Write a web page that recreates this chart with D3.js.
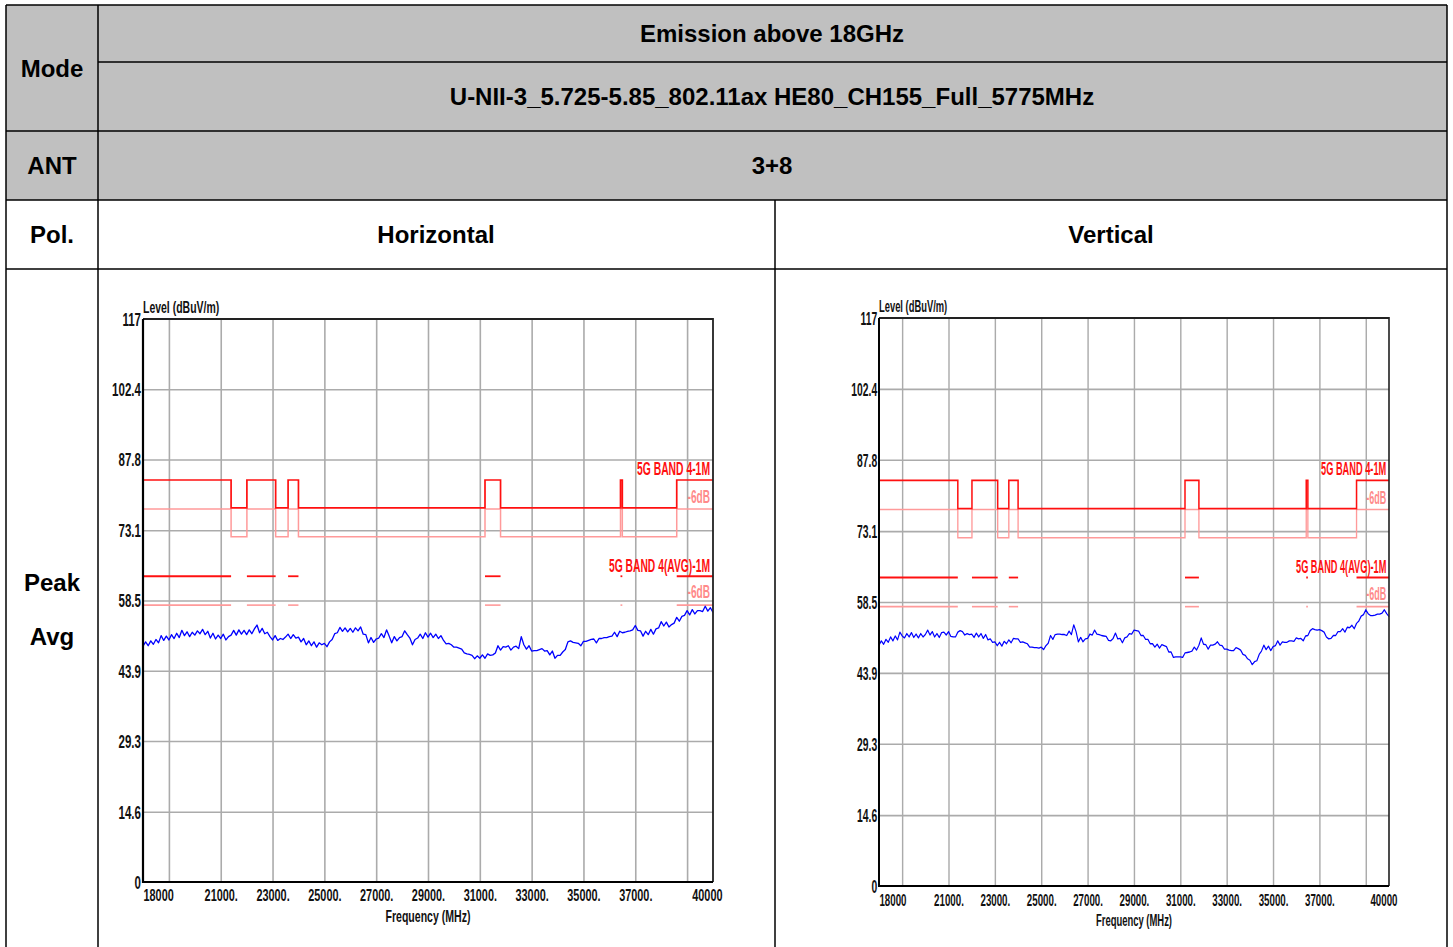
<!DOCTYPE html>
<html><head><meta charset="utf-8">
<script src="https://cdn.jsdelivr.net/npm/d3@7"></script>
<style>
html,body{margin:0;padding:0;background:#fff;}
svg{display:block;}
</style></head>
<body>
<svg id="c" width="1453" height="947"></svg>
<script>
// ---------- data ----------
const yTickValues = [0, 14.6, 29.3, 43.9, 58.5, 73.1, 87.8, 102.4, 117];
const xGridValues = [19000, 21000, 23000, 25000, 27000, 29000, 31000, 33000, 35000, 37000, 39000];
const xLabelValues = [18000, 21000, 23000, 25000, 27000, 29000, 31000, 33000, 35000, 37000, 40000];
const xLabelText = ["18000", "21000.", "23000.", "25000.", "27000.", "29000.", "31000.", "33000.", "35000.", "37000.", "40000"];
const freqStart = 18000, freqStep = 100;

const horizontalLevel = [
  49.0, 49.9, 49.1, 50.1, 49.4, 50.4, 49.7, 51.2, 50.2, 51.1,
  50.3, 51.4, 50.6, 51.7, 50.8, 52.3, 51.2, 52.0, 51.0, 51.9,
  51.3, 52.2, 51.6, 52.5, 51.4, 52.1, 50.7, 51.7, 50.5, 51.3,
  50.6, 51.5, 50.3, 51.0, 51.3, 52.3, 51.3, 52.4, 51.5, 52.3,
  51.4, 52.4, 51.6, 52.6, 53.4, 51.8, 52.7, 51.6, 51.9, 51.0,
  50.3, 51.2, 50.2, 50.6, 50.4, 50.9, 51.5, 50.6, 51.4, 50.7,
  50.9, 49.9, 50.6, 49.3, 50.1, 49.1, 49.9, 48.8, 49.7, 49.3,
  49.6, 48.9, 49.9, 50.4, 51.6, 51.8, 52.9, 52.1, 52.8, 52.0,
  52.7, 51.9, 52.8, 52.2, 53.0, 51.5, 51.4, 49.7, 50.8, 49.8,
  50.5, 50.7, 51.6, 50.8, 52.4, 51.1, 49.7, 51.0, 50.1, 50.8,
  51.0, 52.2, 51.4, 50.7, 49.3, 50.4, 50.7, 51.5, 50.6, 51.8,
  50.9, 51.7, 50.8, 51.5, 50.6, 51.2, 50.2, 49.5, 49.6, 49.3,
  48.8, 48.8, 48.6, 48.4, 47.6, 47.4, 47.3, 47.1, 46.4, 47.0,
  46.5, 47.2, 46.5, 47.4, 47.1, 47.2, 47.6, 49.1, 48.2, 48.9,
  48.8, 49.1, 48.2, 48.8, 49.0, 48.5, 51.0, 49.3, 48.4, 49.1,
  48.0, 48.1, 48.1, 48.3, 48.5, 48.0, 48.1, 47.2, 48.0, 46.5,
  47.1, 47.1, 47.8, 48.3, 49.9, 50.1, 49.8, 49.7, 49.6, 49.1,
  50.0, 50.0, 50.2, 50.4, 50.5, 49.7, 50.6, 50.6, 50.8, 50.8,
  51.0, 51.1, 51.9, 51.0, 52.1, 51.8, 51.9, 52.1, 52.2, 52.4,
  53.3, 52.3, 52.2, 51.1, 52.1, 51.4, 52.5, 51.5, 52.6, 52.8,
  54.1, 53.2, 54.0, 53.0, 53.5, 53.8, 55.0, 54.2, 55.2, 55.4,
  56.4, 55.5, 56.6, 55.7, 56.4, 56.4, 56.2, 57.3, 56.3, 57.0,
  56.0
];

const verticalLevel = [
  49.6, 50.5, 49.8, 50.8, 50.2, 51.3, 50.5, 51.5, 50.7, 52.3,
  51.5, 51.1, 52.0, 51.3, 52.2, 51.2, 51.9, 51.1, 52.0, 51.3,
  51.8, 52.7, 51.7, 52.4, 51.3, 52.0, 51.2, 52.2, 52.3, 51.7,
  52.4, 51.4, 51.3, 51.3, 52.3, 52.6, 52.4, 51.7, 52.0, 51.8,
  51.9, 51.2, 52.1, 51.3, 52.0, 51.0, 51.8, 50.7, 50.9, 50.2,
  50.3, 49.5, 50.2, 49.4, 50.4, 49.9, 50.7, 50.1, 51.0, 50.9,
  50.9, 50.2, 50.3, 50.1, 49.9, 49.2, 49.2, 49.1, 49.1, 49.0,
  49.2, 48.7, 49.5, 50.0, 51.6, 50.8, 51.8, 51.9, 51.9, 51.8,
  51.8, 51.6, 52.5, 51.8, 53.8, 52.4, 50.3, 51.2, 50.3, 50.9,
  51.0, 51.9, 51.7, 52.7, 51.9, 51.8, 51.6, 51.5, 51.4, 50.6,
  50.5, 51.0, 52.1, 50.9, 51.0, 50.1, 51.1, 51.3, 52.0, 51.9,
  52.7, 52.6, 52.5, 51.6, 51.6, 50.8, 50.8, 49.9, 49.9, 49.2,
  49.8, 49.0, 49.7, 49.5, 49.3, 48.2, 48.2, 47.1, 47.2, 47.2,
  47.2, 47.1, 48.0, 48.1, 48.2, 48.4, 49.2, 48.6, 49.6, 51.1,
  49.8, 49.7, 48.8, 49.6, 49.6, 49.8, 50.3, 49.6, 49.5, 48.8,
  48.8, 48.6, 48.5, 48.5, 49.1, 48.9, 48.6, 47.7, 47.5, 46.8,
  46.5, 45.6, 46.2, 46.4, 47.7, 48.4, 49.6, 48.7, 49.4, 48.5,
  49.3, 49.5, 50.5, 49.6, 50.3, 50.2, 50.2, 50.5, 50.5, 50.4,
  51.1, 50.9, 51.0, 50.5, 51.5, 51.6, 52.6, 53.0, 52.8, 52.7,
  52.8, 52.6, 52.3, 51.3, 50.9, 51.0, 51.6, 51.6, 52.4, 52.4,
  53.0, 52.3, 53.3, 53.2, 53.7, 53.0, 54.1, 54.6, 55.6, 55.9,
  56.9, 56.1, 55.7, 55.7, 55.8, 56.0, 56.0, 56.2, 56.9, 56.1,
  55.5
];

const bandEdges = [18000, 21400, 22010, 23120, 23600, 24000, 31200, 31800, 36430, 36500, 38600, 40000];
const bandRestricted = [1, 0, 1, 0, 1, 0, 1, 0, 1, 0, 1];
const peakLimit = [77.74, 83.54];     // [other, restricted]
const peakMargin = [71.74, 77.54];    // -6 dB
const avgLimit = 63.54;
const avgMargin = 57.54;

const tableHeaders = {
  mode: "Mode", emission: "Emission above 18GHz",
  config: "U-NII-3_5.725-5.85_802.11ax HE80_CH155_Full_5775MHz",
  ant: "ANT", antValue: "3+8", pol: "Pol.", h: "Horizontal", v: "Vertical",
  det1: "Peak", det2: "Avg"
};

// ---------- drawing ----------
const svg = d3.select("#c");
const TF = "'Liberation Sans', Arial, sans-serif";

// table
const gray = "#c0c0c0";
const T = svg.append("g");
T.append("rect").attr("x", 6).attr("y", 5).attr("width", 1441).attr("height", 195).attr("fill", gray);
const lines = [
  [6, 5, 1447, 5], [6, 5, 6, 960], [1447, 5, 1447, 960], [98, 5, 98, 960],
  [98, 62, 1447, 62], [6, 131, 1447, 131], [6, 200, 1447, 200], [6, 269, 1447, 269],
  [775, 200, 775, 960]
];
T.selectAll("line.tb").data(lines).join("line").attr("class", "tb")
  .attr("x1", d => d[0]).attr("y1", d => d[1]).attr("x2", d => d[2]).attr("y2", d => d[3])
  .attr("stroke", "#000").attr("stroke-width", 1.5);

const cellTexts = [
  [52, 69, tableHeaders.mode], [772, 34, tableHeaders.emission], [772, 97, tableHeaders.config],
  [52, 166, tableHeaders.ant], [772, 166, tableHeaders.antValue],
  [52, 235, tableHeaders.pol], [436, 235, tableHeaders.h], [1111, 235, tableHeaders.v],
  [52, 583, tableHeaders.det1], [52, 637, tableHeaders.det2]
];
T.selectAll("text.tt").data(cellTexts).join("text").attr("class", "tt")
  .attr("x", d => d[0]).attr("y", d => d[1]).attr("dy", "0.35em")
  .attr("text-anchor", "middle").attr("font-family", TF).attr("font-weight", "bold")
  .attr("font-size", 24).attr("fill", "#000").text(d => d[2]);

function drawChart(tx, ty, sx, sy, level) {
  const W = 570, H = 563;
  const g = svg.append("g").attr("transform", `translate(${tx},${ty}) scale(${sx},${sy})`);
  const x = d3.scaleLinear().domain([18000, 40000]).range([0, W]);
  const y = d3.scaleLinear().domain([0, 117]).range([H, 0]);

  // grid
  const gx = g.append("g").attr("transform", `translate(0,${H})`)
    .call(d3.axisBottom(x).tickValues(xGridValues).tickSize(-H).tickFormat(""));
  gx.select(".domain").remove();
  gx.selectAll("line").attr("stroke", "#ababab").attr("stroke-width", 1.6);
  const gy = g.append("g")
    .call(d3.axisLeft(y).tickValues(yTickValues.slice(1, -1)).tickSize(-W).tickFormat(""));
  gy.select(".domain").remove();
  gy.selectAll("line").attr("stroke", "#ababab").attr("stroke-width", 1.6);

  // limit lines
  const stepPts = vals => {
    const p = [];
    bandRestricted.forEach((r, i) => { p.push([bandEdges[i], vals[r]]); p.push([bandEdges[i + 1], vals[r]]); });
    return p;
  };
  const ln = d3.line().x(d => x(d[0])).y(d => y(d[1]));
  const pink = "#ff9a9a", red = "#ff1010";
  g.append("path").attr("d", ln(stepPts(peakMargin))).attr("fill", "none").attr("stroke", pink).attr("stroke-width", 1.5);
  g.append("path").attr("d", ln(stepPts(peakLimit))).attr("fill", "none").attr("stroke", red).attr("stroke-width", 1.7);
  const segs = [];
  bandRestricted.forEach((r, i) => { if (r) segs.push([bandEdges[i], bandEdges[i + 1]]); });
  segs.forEach(s => {
    g.append("path").attr("d", ln([[s[0], avgMargin], [s[1], avgMargin]])).attr("stroke", pink).attr("stroke-width", 1.6).attr("fill", "none");
    g.append("path").attr("d", ln([[s[0], avgLimit], [s[1], avgLimit]])).attr("stroke", red).attr("stroke-width", 1.8).attr("fill", "none");
  });

  // trace
  const tl = d3.line().x((d, i) => x(freqStart + i * freqStep)).y(d => y(d));
  g.append("path").attr("d", tl(level)).attr("fill", "none").attr("stroke", "#0000ff").attr("stroke-width", 1.3).attr("stroke-linejoin", "round");

  // frame
  g.append("path").attr("d", `M0,0H${W}V${H}`).attr("fill", "none").attr("stroke", "#222").attr("stroke-width", 1.8);
  g.append("path").attr("d", `M0,0V${H}H${W}`).attr("fill", "none").attr("stroke", "#000").attr("stroke-width", 2.2);

  // limit labels
  const lab = (txt, yy, col, w) => {
    g.append("text").attr("text-anchor", "end").attr("font-family", TF).attr("font-weight", "bold")
      .attr("font-size", 18).attr("fill", col).text(txt)
      .attr("transform", `translate(${W - 3},${yy}) scale(${w},1)`);
  };
  lab("5G BAND 4-1M", y(peakLimit[1]) - 5, red, 0.575);
  lab("-6dB", y(peakMargin[1]) - 6, "#ff8a8a", 0.56);
  lab("5G BAND 4(AVG)-1M", y(avgLimit) - 4, red, 0.572);
  lab("-6dB", y(avgMargin) - 7, "#ff8a8a", 0.56);

  // y tick labels
  const SY = 0.66;
  const ya = g.append("g").call(d3.axisLeft(y).tickValues(yTickValues).tickSize(0).tickPadding(0).tickFormat(d => String(d)));
  ya.select(".domain").remove();
  ya.selectAll("text").attr("font-family", TF).attr("font-weight", "bold").attr("font-size", 17.5).attr("fill", "#111")
    .attr("x", -2 / SY).attr("dy", "0.36em").attr("transform", `scale(${SY},1)`);

  // x tick labels
  const SXL = 0.66;
  const xa = g.append("g").attr("transform", `translate(0,${H})`)
    .call(d3.axisBottom(x).tickValues(xLabelValues).tickSize(0).tickFormat((d, i) => xLabelText[i]));
  xa.select(".domain").remove();
  const n = xLabelValues.length;
  xa.selectAll("text").attr("font-family", TF).attr("font-weight", "bold").attr("font-size", 16.5).attr("fill", "#111")
    .attr("y", 19.5).attr("dy", 0).attr("transform", `scale(${SXL},1)`)
    .attr("text-anchor", (d, i) => i === 0 ? "start" : (i === n - 1 ? "end" : "middle"))
    .attr("x", (d, i) => i === n - 1 ? 9 / SXL : 0);

  // axis titles
  g.append("text").attr("font-family", TF).attr("font-weight", "bold").attr("font-size", 16).attr("fill", "#111")
    .attr("transform", `translate(0,-6) scale(0.655,1)`).text("Level (dBuV/m)");
  g.append("text").attr("font-family", TF).attr("font-weight", "bold").attr("font-size", 16.5).attr("fill", "#111")
    .attr("text-anchor", "middle")
    .attr("transform", `translate(${W / 2},603) scale(0.64,1)`).text("Frequency (MHz)");
}

drawChart(143, 319, 1, 1, horizontalLevel);
drawChart(879, 318, 510 / 570, 568 / 563, verticalLevel);
</script>
</body></html>
